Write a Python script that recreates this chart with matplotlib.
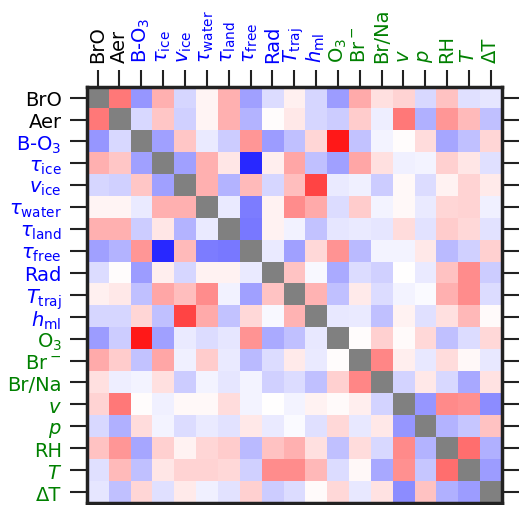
import numpy as np
import matplotlib
matplotlib.use("Agg")
import matplotlib.pyplot as plt

labels = ['BrO', 'Aer', 'B-O$_3$', r'$\tau_\mathrm{ice}$', r'$v_\mathrm{ice}$',
          r'$\tau_\mathrm{water}$', r'$\tau_\mathrm{land}$', r'$\tau_\mathrm{free}$',
          'Rad', r'$T_\mathrm{traj}$', r'$h_\mathrm{ml}$', 'O$_3$', 'Br$^-$', 'Br/Na',
          '$v$', '$p$', 'RH', '$T$', 'ΔT']
label_colors = ['black'] * 2 + ['blue'] * 9 + ['green'] * 8

row_BrO   = [np.nan, .53, -.41, .31, -.16, .04, .31, -.37, -.14, .06, -.16, -.39, .33, .12, .17, -.15, .24, -.12, -.10]
row_Aer   = [.53, np.nan, -.15, .22, -.18, .04, .31, -.29, .01, .09, -.16, -.20, .20, -.07, .53, -.31, .41, .27, -.25]
row_BO3   = [-.41, -.15, np.nan, -.37, .22, -.08, -.20, .41, -.39, -.25, .16, .90, -.24, -.04, .01, .14, -.35, -.25, .16]
row_tice  = [.31, .22, -.37, np.nan, -.37, .31, .10, -.84, .07, .35, -.25, -.37, .35, .12, -.06, -.04, .18, .10, -.12]
row_vice  = [-.16, -.18, .22, -.37, np.nan, .31, -.29, .27, -.16, .25, .73, -.08, -.06, -.20, .03, -.14, .05, .17, .08]
row_twat  = [.04, .04, -.08, .31, .31, np.nan, -.08, -.51, .05, .45, .33, -.14, .20, -.04, .03, -.08, .16, .17, -.06]
row_tland = [.31, .31, -.20, .10, -.29, -.08, np.nan, -.53, .05, -.05, -.24, -.10, -.08, -.10, .14, -.11, .20, .15, -.11]
row_tfree = [-.37, -.29, .41, -.84, .27, -.51, -.53, np.nan, -.08, -.37, .15, .42, -.27, -.04, -.04, .09, -.27, -.18, .18]
row_Rad   = [-.14, .01, -.39, .07, -.16, .05, .05, -.08, np.nan, .23, -.03, -.33, -.14, -.18, 0.0, -.08, .24, .45, -.20]
row_Ttraj = [.06, .09, -.25, .35, .25, .45, -.05, -.37, .23, np.nan, .29, -.25, .08, -.14, -.04, -.02, .31, .45, -.14]
row_hml   = [-.16, -.16, .16, -.25, .73, .33, -.24, .15, -.03, .29, np.nan, -.09, -.08, -.25, .05, -.12, .12, .28, .02]
row_O3    = [-.39, -.20, .90, -.37, -.08, -.14, -.10, .42, -.33, -.25, -.09, np.nan, .01, .18, .02, .15, -.25, -.14, .15]
row_Br    = [.33, .20, -.24, .35, -.06, .20, -.08, -.27, -.14, .08, -.08, .01, np.nan, .47, .07, -.09, .14, .03, -.09]
row_BrNa  = [.12, -.07, -.04, .12, -.20, -.04, -.10, -.04, -.18, -.14, -.25, .18, .47, np.nan, -.17, .09, -.15, -.34, .11]
row_v     = [.17, .53, .01, -.06, .03, .03, .14, -.04, 0.0, -.04, .05, .02, .07, -.17, np.nan, -.41, .46, .43, -.45]
row_p     = [-.15, -.31, .14, -.04, -.14, -.08, -.11, .09, -.08, -.02, -.12, .15, -.09, .09, -.41, np.nan, -.29, -.22, .24]
row_RH    = [.24, .41, -.35, .18, .05, .16, .20, -.27, .24, .31, .12, -.25, .14, -.15, .46, -.29, np.nan, .57, -.31]
row_T     = [-.12, .27, -.25, .10, .17, .17, .15, -.18, .45, .45, .28, -.14, .03, -.34, .43, -.22, .57, np.nan, -.39]
row_dT    = [-.10, -.25, .16, -.12, .08, -.06, -.11, .18, -.20, -.14, .02, .15, -.09, .11, -.45, .24, -.31, -.39, np.nan]

rows = [row_BrO, row_Aer, row_BO3, row_tice, row_vice, row_twat, row_tland, row_tfree,
        row_Rad, row_Ttraj, row_hml, row_O3, row_Br, row_BrNa, row_v, row_p, row_RH,
        row_T, row_dT]
mat = np.ma.masked_invalid(np.array(rows, dtype=float))

W, H = 519, 506
left, right, top, bottom = 86.7, 501.7, 87.7, 504.0
fig = plt.figure(figsize=(W / 100, H / 100), dpi=100)
ax = fig.add_axes([left / W, 1 - bottom / H, (right - left) / W, (bottom - top) / H])

cmap = plt.get_cmap('bwr').copy()
cmap.set_bad('#808080')
ax.imshow(mat, cmap=cmap, vmin=-1, vmax=1, aspect='auto', interpolation='nearest')

n = len(labels)
ax.set_xticks(range(n))
ax.set_yticks(range(n))
ax.set_xticklabels(labels, rotation=90, fontsize=14)
ax.set_yticklabels(labels, fontsize=14)
ax.tick_params(top=True, labeltop=True, bottom=False, labelbottom=False,
               left=True, right=True, labelleft=True, labelright=False,
               length=12, width=1.5, pad=6, color='#222222')
for t, c in zip(ax.get_xticklabels(), label_colors):
    t.set_color(c)
for t, c in zip(ax.get_yticklabels(), label_colors):
    t.set_color(c)
for s in ax.spines.values():
    s.set_linewidth(2.5)
    s.set_color('#222222')

fig.savefig('out.png', dpi=100)
